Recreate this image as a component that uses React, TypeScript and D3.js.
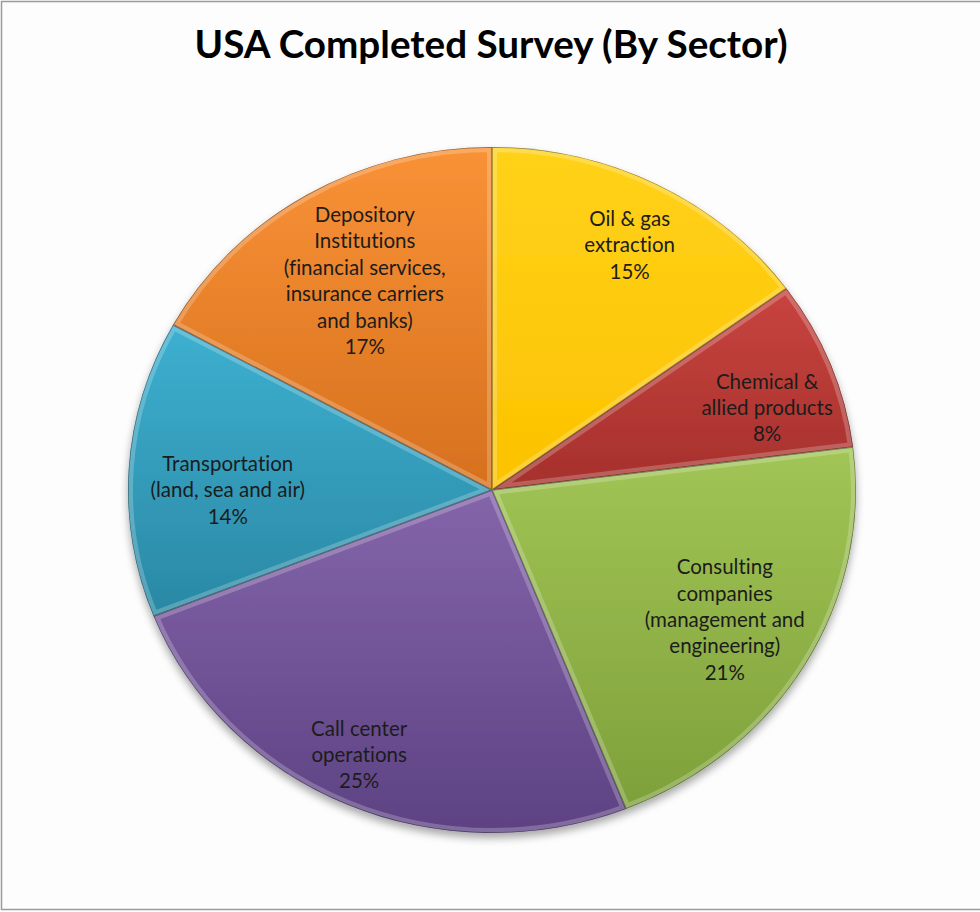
import React from "react";
import * as d3 from "d3";

const title = "USA Completed Survey (By Sector)";
const sectorLabels: string[][] = [
  ["Oil & gas", "extraction"],
  ["Chemical &", "allied products"],
  ["Consulting", "companies", "(management and", "engineering)"],
  ["Call center", "operations"],
  ["Transportation", "(land, sea and air)"],
  ["Depository", "Institutions", "(financial services,", "insurance carriers", "and banks)"],
];
const sectorValues = [15, 8, 21, 25, 14, 17];
const topColors = ["#FFD21A", "#C8443F", "#A2C556", "#8465AA", "#3DB0D0", "#F99236"];
const bottomColors = ["#FCC200", "#A5302C", "#7EA03A", "#5D4283", "#2A88A4", "#D6701E"];
const labelRadiusFrac = [0.808, 0.793, 0.743, 0.854, 0.726, 0.703];
const labelAngleShiftDeg = [0.9, 4, 0, 1.9, -3.6, 0.8];

const W = 980;
const H = 912;
const CX = 492;
const CY = 490;
const R = 343;
const SX = 364 / 343;

export default function App() {
  const pie = d3.pie<number>().sort(null).value((d) => d);
  const arcs = pie(sectorValues);
  const arcGen = d3.arc<d3.PieArcDatum<number>>().innerRadius(0).outerRadius(R);
  const total = d3.sum(sectorValues);
  const fmt = d3.format(".0%");
  const lineH = 26.4;

  return (
    <svg width={W} height={H} style={{ position: "absolute", left: 0, top: 0, background: "#fff" }}>
      <defs>
        {topColors.map((c, i) => (
          <linearGradient key={i} id={`g${i}`} x1="0" y1="0" x2="0" y2="1">
            <stop offset="0%" stopColor={c} />
            <stop offset="100%" stopColor={bottomColors[i]} />
          </linearGradient>
        ))}
        {arcs.map((a, i) => (
          <clipPath key={i} id={`c${i}`}>
            <path d={arcGen(a) || ""} />
          </clipPath>
        ))}
        <filter id="shadow" x="-10%" y="-10%" width="120%" height="125%">
          <feGaussianBlur in="SourceAlpha" stdDeviation="4" />
          <feOffset dx="0" dy="5" result="b" />
          <feComponentTransfer>
            <feFuncA type="linear" slope="0.35" />
          </feComponentTransfer>
          <feMerge>
            <feMergeNode />
            <feMergeNode in="SourceGraphic" />
          </feMerge>
        </filter>
      </defs>
      <rect x={1.5} y={1.5} width={W + 10} height={H - 4} fill="#fdfdfd" stroke="#9a9a9a" strokeWidth={1.5} />
      <text
        x={491}
        y={58}
        textAnchor="middle"
        fontFamily="Lato, 'Open Sans', sans-serif"
        fontWeight={700}
        fontSize={38}
        fill="#000"
        textLength={593}
        lengthAdjust="spacingAndGlyphs"
      >
        {title}
      </text>
      <g transform={`translate(${CX},${CY}) scale(${SX},1)`}>
        <g filter="url(#shadow)">
          {arcs.map((a, i) => (
            <path key={i} d={arcGen(a) || ""} fill={`url(#g${i})`} />
          ))}
        </g>
        {arcs.map((a, i) => (
          <g key={i} clipPath={`url(#c${i})`}>
            <path
              d={arcGen(a) || ""}
              fill="none"
              stroke="#ffffff"
              strokeOpacity={0.22}
              strokeWidth={10}
              vectorEffect="non-scaling-stroke"
            />
            <path
              d={arcGen(a) || ""}
              fill="none"
              stroke="#000"
              strokeOpacity={0.4}
              strokeWidth={1.5}
              vectorEffect="non-scaling-stroke"
            />
          </g>
        ))}
      </g>
      {arcs.map((a, i) => {
        const mid = (a.startAngle + a.endAngle) / 2 + (labelAngleShiftDeg[i] * Math.PI) / 180;
        const r = labelRadiusFrac[i] * R;
        const x = CX + Math.sin(mid) * r * SX;
        const y = CY - Math.cos(mid) * r;
        const lines = [...sectorLabels[i], fmt(sectorValues[i] / total)];
        const y0 = y - ((lines.length - 1) * lineH) / 2;
        return (
          <text
            key={i}
            textAnchor="middle"
            fontFamily="Lato, 'Open Sans', sans-serif"
            fontSize={20.5}
            fill="#1c1c1c"
            style={{ fontVariantLigatures: "none" }}
          >
            {lines.map((l, j) => (
              <tspan key={j} x={x} y={y0 + j * lineH} dy="0.35em">
                {l}
              </tspan>
            ))}
          </text>
        );
      })}
    </svg>
  );
}
